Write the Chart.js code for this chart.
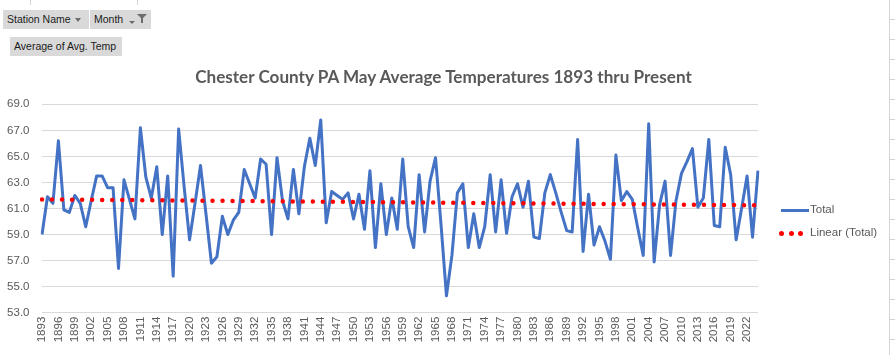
<!DOCTYPE html>
<html>
<head>
<meta charset="utf-8">
<script src="https://cdn.jsdelivr.net/npm/chart.js@4/dist/chart.umd.min.js"></script>
<style>
  html, body { margin:0; padding:0; background:#fff; }
  #wrap { position:relative; width:895px; height:355px; overflow:hidden; font-family:"Liberation Sans", Arial, sans-serif; }
  canvas { position:absolute; left:0; top:0; }
  .btn { position:absolute; background:#d9d9d9; color:#1a1a1a; font-size:10.5px; height:19px; line-height:19px; padding-left:4px; box-sizing:border-box; white-space:nowrap; }
  .tri { position:absolute; width:0; height:0; border-left:3.5px solid transparent; border-right:3.5px solid transparent; border-top:4px solid #6d6d6d; }
  .funnel { position:absolute; width:0; height:0; border-left:5px solid transparent; border-right:5px solid transparent; border-top:5px solid #6d6d6d; }
  .stem { position:absolute; width:2px; height:5px; background:#6d6d6d; }
  #title { position:absolute; left:0; width:887px; top:66px; text-align:center; font-weight:bold; color:#595959; white-space:nowrap; }
  .leg { position:absolute; left:810px; font-size:11.5px; color:#595959; white-space:nowrap; }
  .vline { position:absolute; width:1px; background:#d4d4d4; }
  .hline { position:absolute; height:1px; background:#d4d4d4; }
  .dot { position:absolute; width:5px; height:5px; border-radius:50%; background:#ff0000; }
</style>
</head>
<body>
<div id="wrap">
  <canvas id="c" width="895" height="355"></canvas>
  <div id="grid"></div>
  <div class="btn" style="left:3px;top:10px;width:86px;">Station Name</div>
  <div class="tri" style="left:75px;top:18px;"></div>
  <div class="btn" style="left:90px;top:10px;width:61px;">Month</div>
  <div class="tri" style="left:129px;top:21px;border-left-width:3px;border-right-width:3px;border-top-width:3px;"></div>
  <div class="funnel" style="left:137px;top:14px;"></div>
  <div class="stem" style="left:141px;top:18px;"></div>
  <div class="btn" style="left:10px;top:37px;width:112px;">Average of Avg. Temp</div>
  <div id="title">Chester County PA May Average Temperatures 1893 thru Present</div>
  <div style="position:absolute;left:781px;top:209px;width:28px;height:3px;background:#4472C4;"></div>
  <div class="leg" id="leg1" style="top:203px;">Total</div>
  <div class="dot" style="left:779px;top:231px;"></div>
  <div class="dot" style="left:788.5px;top:231px;"></div>
  <div class="dot" style="left:798px;top:231px;"></div>
  <div class="leg" id="leg2" style="top:226px;">Linear (Total)</div>
</div>
<script>
// ---- data ----
const firstYear = 1893;
const lastYear = 2024;
const years = Array.from({length: lastYear - firstYear + 1}, (_, i) => String(firstYear + i));

const avgTemp = [
  59.0, 61.9, 61.4, 66.2, 60.9, 60.7, 62.0, 61.4, 59.6, 61.6,   // 1893-1902
  63.5, 63.5, 62.6, 62.6, 56.4, 63.2, 61.7, 60.2, 67.2, 63.4,   // 1903-1912
  61.8, 64.2, 59.0, 63.5, 55.8, 67.1, 62.7, 58.6, 61.4, 64.3,   // 1913-1922
  60.6, 56.8, 57.3, 60.4, 59.0, 60.1, 60.7, 64.0, 62.9, 61.8,   // 1923-1932
  64.8, 64.4, 59.0, 64.9, 61.6, 60.2, 64.0, 60.6, 64.2, 66.4,   // 1933-1942
  64.3, 67.8, 59.9, 62.3, 62.0, 61.7, 62.2, 60.2, 62.1, 59.4,   // 1943-1952
  63.9, 58.0, 62.9, 59.0, 61.8, 59.4, 64.8, 59.6, 58.0, 63.6,   // 1953-1962
  59.2, 63.1, 64.9, 59.8, 54.3, 57.4, 62.2, 62.9, 58.0, 60.6,   // 1963-1972
  58.0, 59.6, 63.6, 59.2, 63.2, 59.1, 61.9, 62.9, 61.1, 63.1,   // 1973-1982
  58.8, 58.7, 62.2, 63.6, 62.2, 60.7, 59.3, 59.2, 66.3, 57.7,   // 1983-1992
  62.1, 58.2, 59.6, 58.5, 57.1, 65.1, 61.6, 62.3, 61.7, 59.5,   // 1993-2002
  57.4, 67.5, 56.9, 61.3, 63.1, 57.4, 61.6, 63.7, 64.6, 65.6,   // 2003-2012
  61.1, 61.8, 66.3, 59.7, 59.6, 65.7, 63.6, 58.6, 61.0, 63.5,   // 2013-2022
  58.8, 63.9                                                    // 2023-2024
];

// linear trend line end points
const trendYears = ['1893', '2024'];
const trendValues = [61.70, 61.25];

const yTicks = [53, 55, 57, 59, 61, 63, 65, 67, 69];
const labelEvery = 3;

// ---- spreadsheet cell lines around the chart object ----
(function(){
  const g = document.getElementById('grid');
  let h = '';
  h += '<div class="vline" style="left:30px;top:0;height:5px;"></div>';
  h += '<div class="vline" style="left:137px;top:0;height:5px;"></div>';
  h += '<div class="vline" style="left:889px;top:0;height:355px;"></div>';
  for (let y = -0.7; y < 355; y += 20) h += '<div class="hline" style="left:890px;width:5px;top:' + y + 'px;"></div>';
  g.innerHTML = h;
})();

// ---- fit title width like the reference ----
(function(){
  const t = document.getElementById('title');
  const ctx = document.createElement('canvas').getContext('2d');
  ctx.font = 'bold 100px Lato';
  const w = ctx.measureText(t.textContent).width;
  const size = 100 * 500 / w;
  t.style.fontFamily = 'Lato, "Liberation Sans", sans-serif';
  t.style.fontSize = size.toFixed(2) + 'px';
})();

const tickFont = { family: '"Liberation Sans", Arial, sans-serif', size: 11.5 };

new Chart(document.getElementById('c'), {
  type: 'line',
  data: {
    labels: years,
    datasets: [
      {
        label: 'Total',
        data: avgTemp,
        borderColor: '#4472C4',
        borderWidth: 3,
        pointRadius: 0,
        tension: 0,
        borderJoinStyle: 'round',
        order: 1
      },
      {
        label: 'Linear (Total)',
        data: trendYears.map((x, i) => ({ x: x, y: trendValues[i] })),
        borderColor: '#FF0000',
        borderWidth: 4.5,
        borderDash: [0, 10.03],
        borderCapStyle: 'round',
        pointRadius: 0,
        order: 0
      }
    ]
  },
  options: {
    responsive: false,
    animation: false,
    events: [],
    layout: { padding: { left: 0, right: 137, top: 104.3, bottom: 0 } },
    plugins: { legend: { display: false }, title: { display: false }, tooltip: { enabled: false } },
    scales: {
      x: {
        type: 'category',
        offset: false,
        grid: { display: false, drawTicks: false },
        border: { display: false },
        ticks: {
          autoSkip: false,
          maxRotation: 90,
          minRotation: 90,
          padding: 4,
          color: '#595959',
          font: tickFont,
          callback: function(v, i) { return i % labelEvery === 0 ? this.getLabelForValue(v) : ''; }
        },
        afterFit: s => { s.height = 355 - 312.7; }
      },
      y: {
        min: yTicks[0],
        max: yTicks[yTicks.length - 1],
        afterBuildTicks: s => { s.ticks = yTicks.map(v => ({ value: v })); },
        grid: { color: '#d9d9d9', lineWidth: 1, drawTicks: false },
        border: { display: false },
        ticks: {
          padding: 12.5,
          color: '#595959',
          font: tickFont,
          callback: v => Number(v).toFixed(1)
        },
        afterFit: s => { s.width = 42; }
      }
    }
  }
});
</script>
</body>
</html>
